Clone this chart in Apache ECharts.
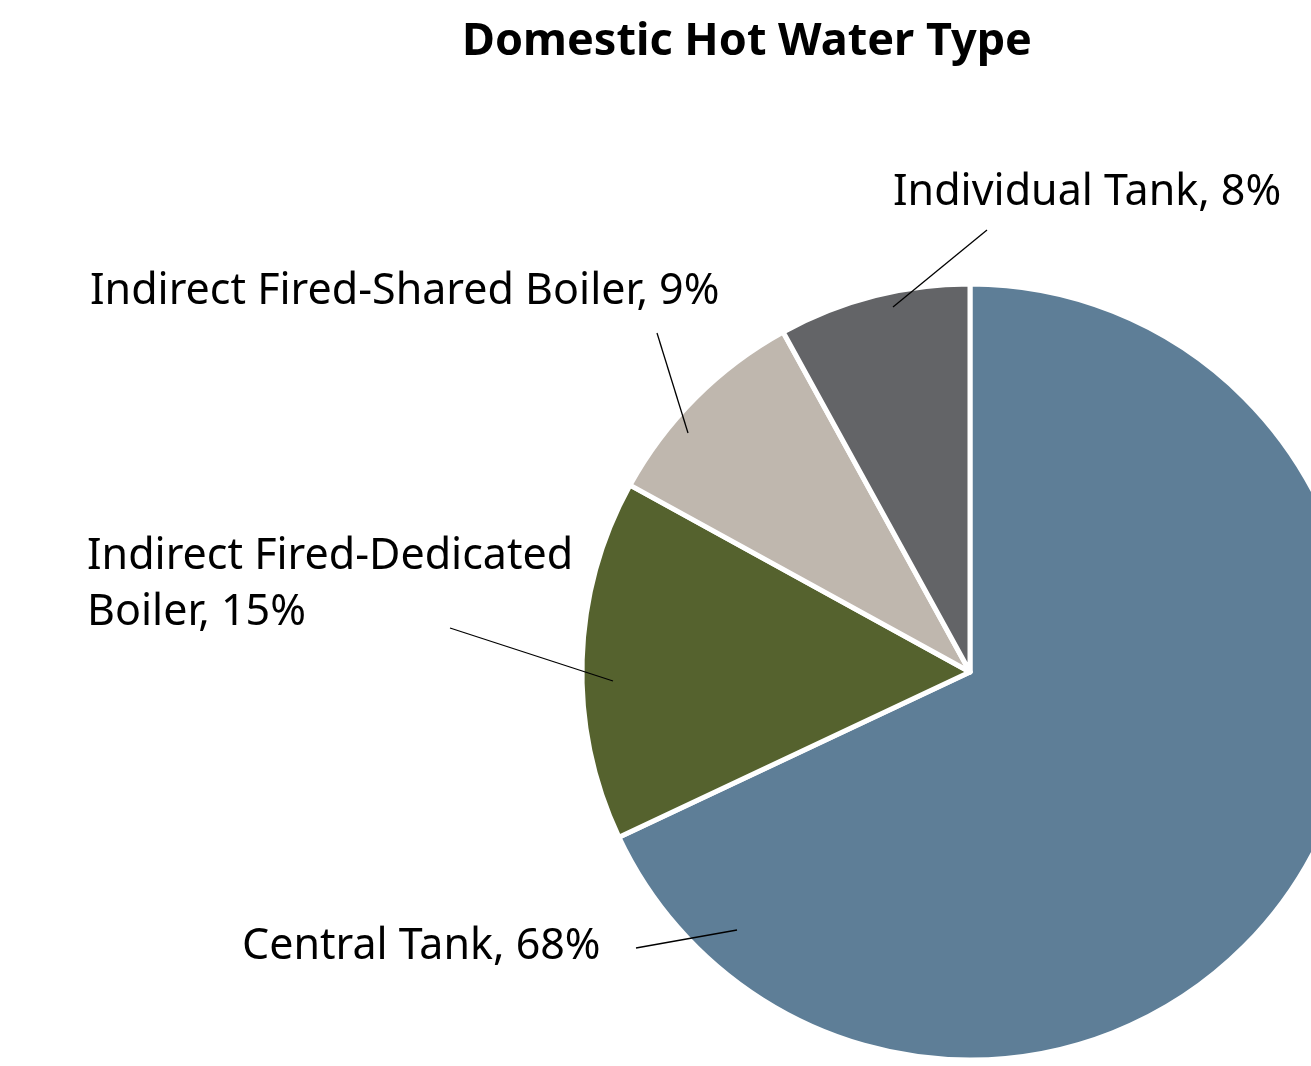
<!DOCTYPE html>
<html>
<head>
<meta charset="utf-8">
<script src="https://cdn.jsdelivr.net/npm/echarts@6/dist/echarts.min.js"></script>
<style>
  html, body { margin: 0; padding: 0; background: #fff; }
  #chart { width: 1311px; height: 1066px; }
</style>
</head>
<body>
<div id="chart"></div>
<script>
const categories = ['Central Tank', 'Indirect Fired-Dedicated Boiler', 'Indirect Fired-Shared Boiler', 'Individual Tank'];
const values = [68, 15, 9, 8];
const colors = ['#5e7e97', '#55622e', '#bfb7ae', '#636467'];

// where each label sits and where its leader line starts, Excel-like
const labelSpots = [
  { x: 242, y: 947, line: [[737, 930], [636, 948]] },
  { x: 87, y: 585, line: [[613, 681], [450, 628]] },
  { x: 90, y: 292, line: [[688, 433], [657, 333]] },
  { x: 893, y: 193, line: [[893, 307], [987, 230]] },
];

const font = '"Noto Sans", sans-serif';
const pieBase = {
  type: 'pie',
  center: [970, 672],
  radius: 388,
  startAngle: 90,
  clockwise: true,
  avoidLabelOverlap: false,
};

const chart = echarts.init(document.getElementById('chart'));

chart.setOption({
  animation: false,
  title: {
    text: 'Domestic Hot Water Type',
    left: 742,
    top: 15,
    textAlign: 'center',
    textStyle: { fontFamily: font, fontSize: 45, fontWeight: 'bold', color: '#000' },
  },
  series: [
    {
      ...pieBase,
      z: 2,
      itemStyle: { borderColor: '#fff', borderWidth: 5 },
      label: { show: false },
      labelLine: { show: false },
      data: categories.map((c, i) => ({ name: c, value: values[i], itemStyle: { color: colors[i] } })),
    },
    {
      // same pie again, invisible and higher up, so the leader lines run over the slices
      ...pieBase,
      z: 5,
      silent: true,
      itemStyle: { color: 'rgba(0,0,0,0)', borderWidth: 0 },
      label: {
        show: true,
        position: 'outside',
        fontFamily: font,
        fontSize: 43,
        color: '#000',
        lineHeight: 56,
        formatter: p => p.name + ', ' + p.value + '%',
      },
      labelLine: { show: true, showAbove: true, lineStyle: { color: '#000', width: 1.3 } },
      labelLayout: p => {
        const s = labelSpots[p.dataIndex];
        const mid = [(s.line[0][0] + s.line[1][0]) / 2, (s.line[0][1] + s.line[1][1]) / 2];
        return {
          x: s.x,
          y: s.y,
          align: 'left',
          verticalAlign: 'middle',
          labelLinePoints: [s.line[0], mid, s.line[1]],
        };
      },
      data: categories.map((c, i) => {
        const d = { name: c, value: values[i] };
        if (i === 1) d.label = { width: 560, overflow: 'break' };
        return d;
      }),
    },
  ],
});
</script>
</body>
</html>
